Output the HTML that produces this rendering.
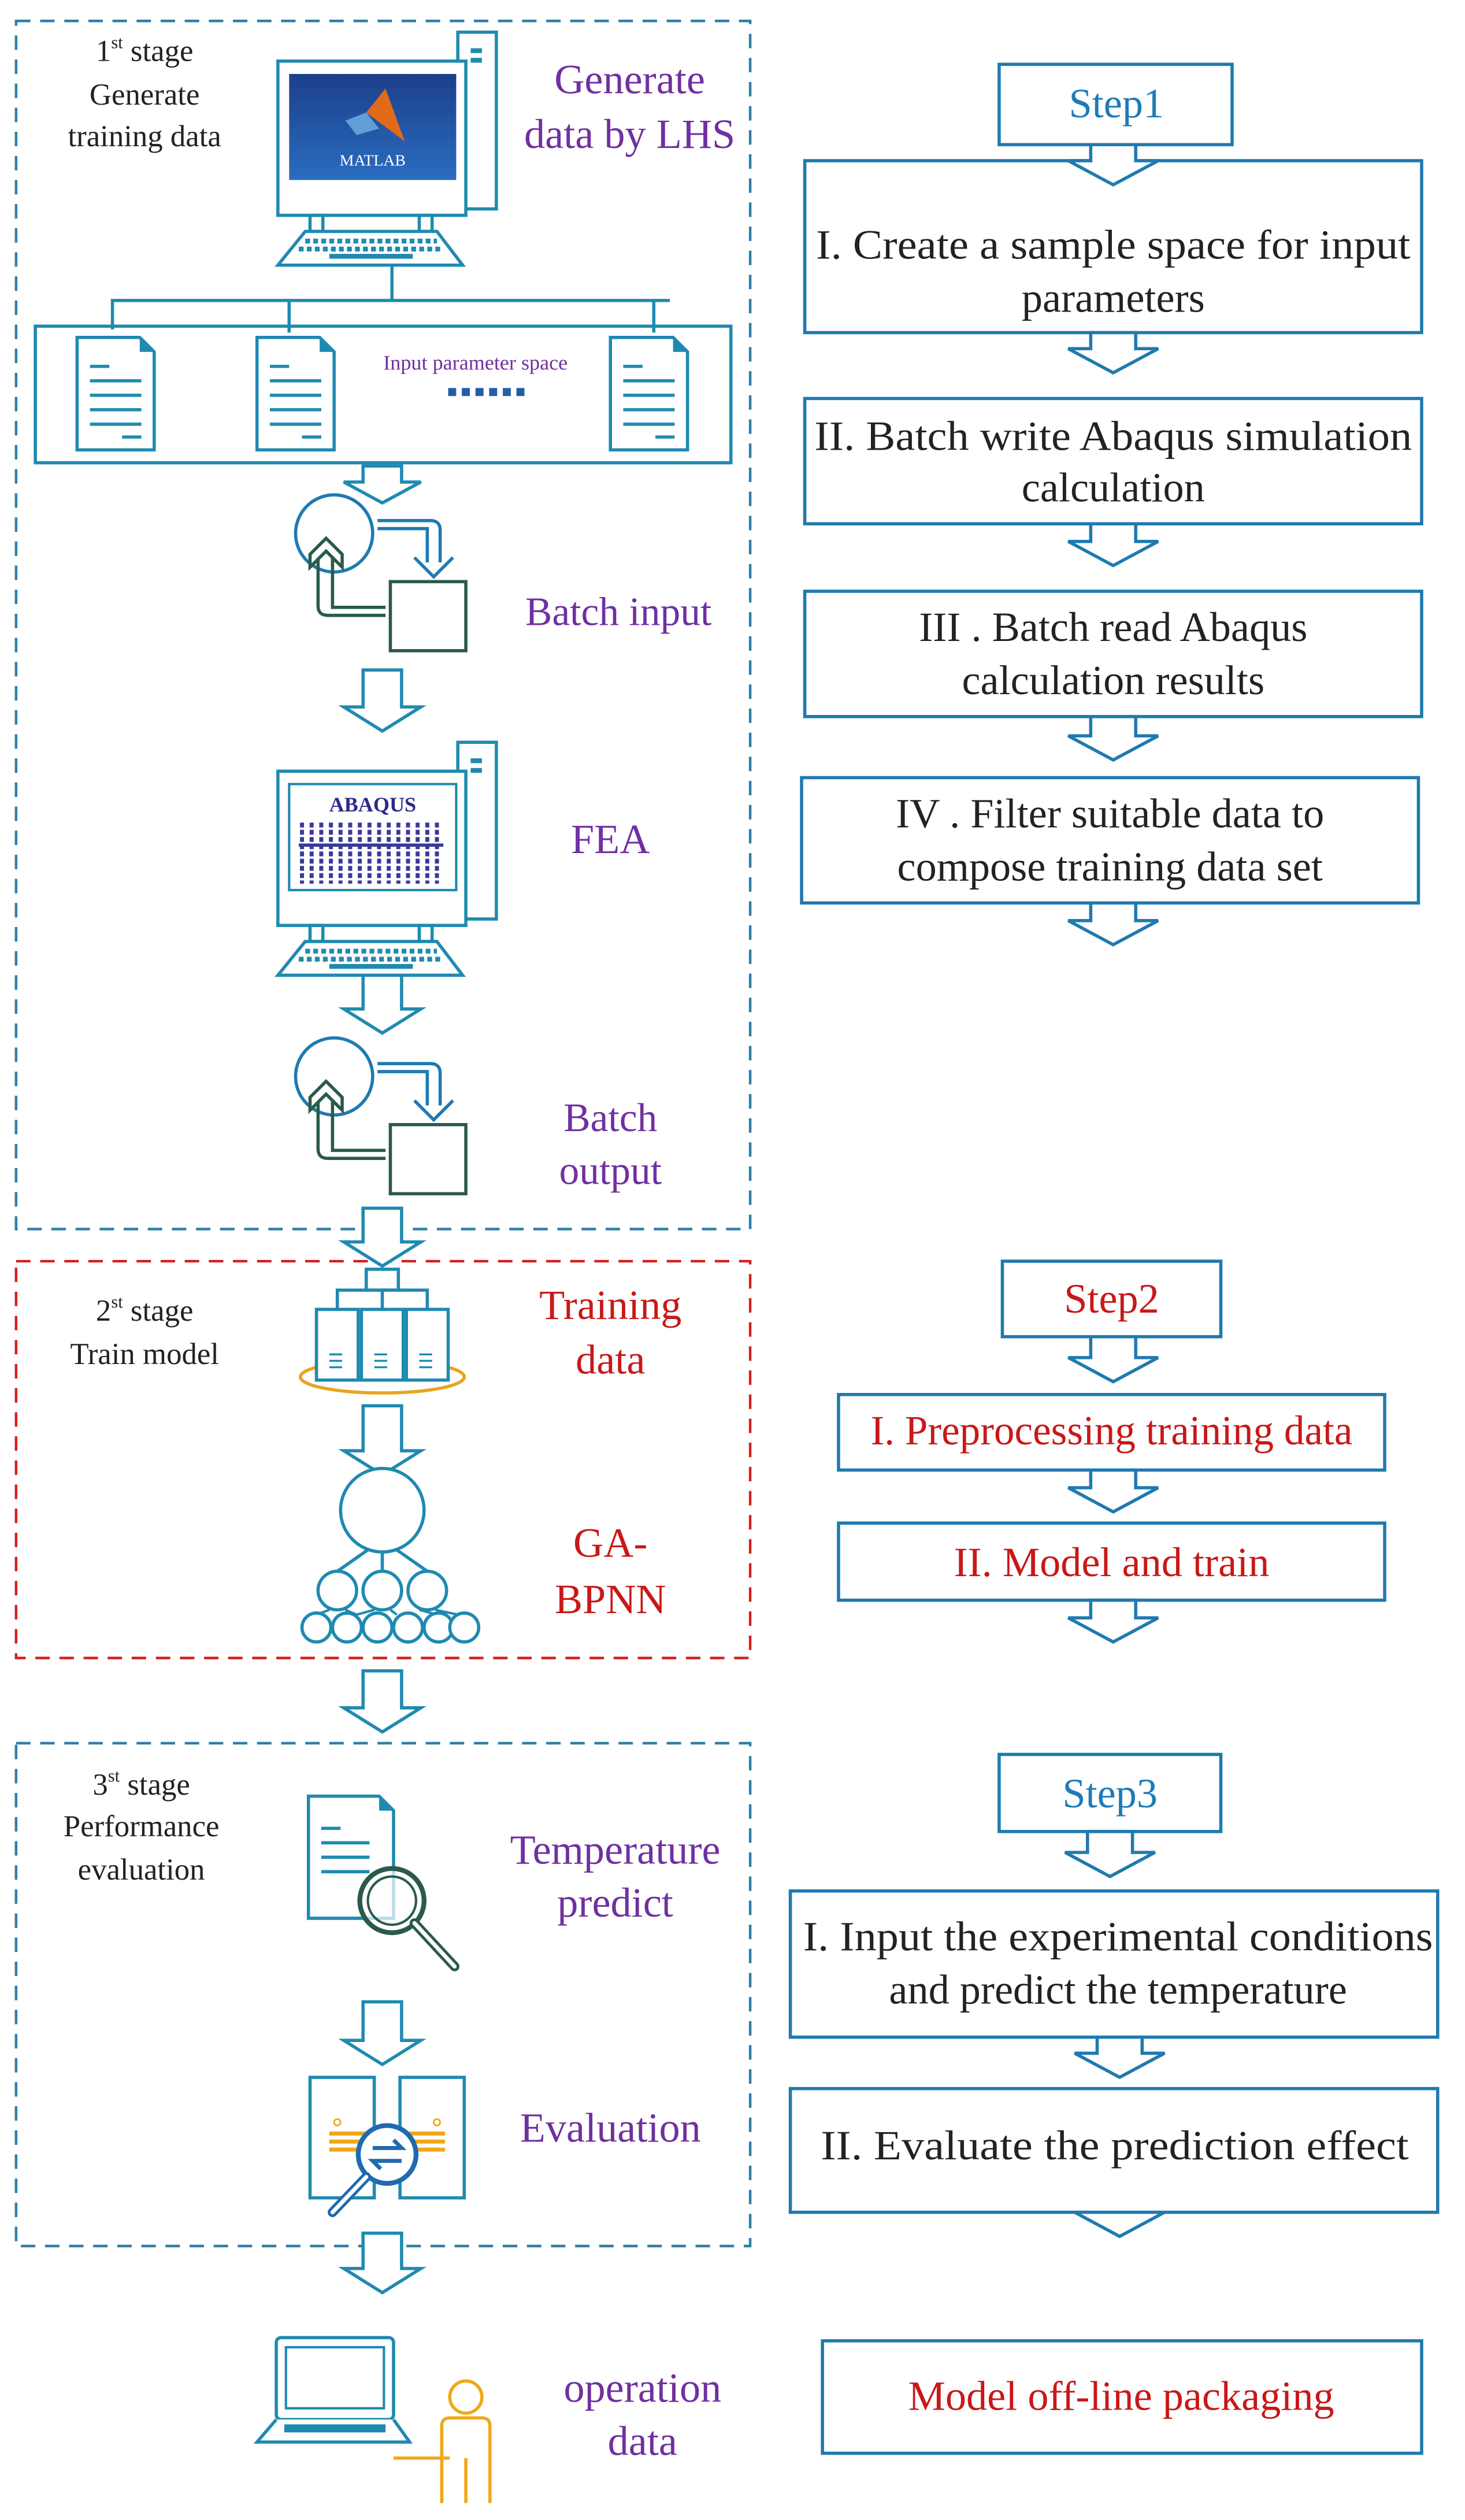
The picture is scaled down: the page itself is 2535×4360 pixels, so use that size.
<!DOCTYPE html>
<html><head><meta charset="utf-8"><style>
html,body{margin:0;padding:0;background:#fff}
svg{display:block}
text{font-family:"Liberation Serif",serif}
</style></head><body>
<svg width="2535" height="4360" viewBox="0 0 912 1568.5" xmlns="http://www.w3.org/2000/svg">
<defs>
<g id="cyc">
 <circle cx="208" cy="332" r="24" fill="none" stroke="#1f7ab0" stroke-width="2"/>
 <path d="M235 324 H268 Q274 324 274 330 V350 M235 329 H266 V350" fill="none" stroke="#1f7ab0" stroke-width="2"/>
 <path d="M258 347 L270 359 L282 347" fill="none" stroke="#1f7ab0" stroke-width="2"/>
 <rect x="243" y="362" width="47" height="43" fill="none" stroke="#2a5a4a" stroke-width="2"/>
 <path d="M240 383 H204 Q198 383 198 377 V345 M240 378 H207 V345" fill="none" stroke="#2a5a4a" stroke-width="2"/>
 <path d="M193 353 L193 345 L203 335 L213 345 L213 353 L203 343 Z" fill="#fff" stroke="#2a5a4a" stroke-width="2"/>
</g>
<g id="pc">
 <rect x="285" y="20" width="24" height="110" fill="#fff" stroke="#1f8ab0" stroke-width="2"/>
 <rect x="293" y="30" width="7" height="3" fill="#1f8ab0"/><rect x="293" y="36" width="7" height="3" fill="#1f8ab0"/>
 <rect x="173" y="38" width="117" height="96" fill="#fff" stroke="#1f8ab0" stroke-width="2"/>
 <rect x="193" y="134" width="8" height="10" fill="none" stroke="#1f8ab0" stroke-width="2"/>
 <rect x="261" y="134" width="8" height="10" fill="none" stroke="#1f8ab0" stroke-width="2"/>
 <path d="M190 144 H272 L288 165 H173 Z" fill="#fff" stroke="#1f8ab0" stroke-width="2"/>
 <path d="M190 150 H272 M186 155 H276" stroke="#1f8ab0" stroke-width="3" stroke-dasharray="3 2"/>
 <rect x="205" y="158" width="52" height="3" fill="#1f8ab0"/>
</g>
</defs>

<!-- stage boxes -->
<rect x="10" y="13" width="457" height="752" fill="none" stroke="#2e7fa6" stroke-width="1.6" stroke-dasharray="9 6"/>
<rect x="10" y="785" width="457" height="247" fill="none" stroke="#d42020" stroke-width="1.6" stroke-dasharray="9 6"/>
<rect x="10" y="1085" width="457" height="313" fill="none" stroke="#2e7fa6" stroke-width="1.6" stroke-dasharray="9 6"/>

<!-- stage 1 -->
<text x="90" y="38" font-size="19" text-anchor="middle" fill="#222">1<tspan font-size="11" dy="-8">st</tspan><tspan dy="8"> stage</tspan></text>
<text x="90" y="65" font-size="19" text-anchor="middle" fill="#222">Generate</text>
<text x="90" y="91" font-size="19" text-anchor="middle" fill="#222">training data</text>
<use href="#pc"/>
<defs><linearGradient id="mg" x1="0" y1="0" x2="0" y2="1"><stop offset="0" stop-color="#1c3f8a"/><stop offset="1" stop-color="#2a6cc0"/></linearGradient></defs>
<rect x="180" y="46" width="104" height="66" fill="url(#mg)"/>
<path d="M228 70 L240 55 L252 88 L244 82 Z" fill="#e06a1a"/><path d="M215 75 L228 70 L236 80 L222 84 Z" fill="#5fa0d8"/>
<text x="232" y="103" font-size="10" text-anchor="middle" fill="#fff">MATLAB</text>
<text x="392" y="58" font-size="26" text-anchor="middle" fill="#7030a0">Generate</text>
<text x="392" y="92" font-size="26" text-anchor="middle" fill="#7030a0">data by LHS</text>

<path d="M244 165 V187 M70 205 V187 H417 M180 187 V207 M407 187 V207" fill="none" stroke="#1f8ab0" stroke-width="2"/>
<rect x="22" y="203" width="433" height="85" fill="none" stroke="#1f8ab0" stroke-width="2"/>
<g fill="#fff" stroke="#1f8ab0" stroke-width="2">
 <path d="M48 210 H87 L96 219 V280 H48 Z"/><path d="M160 210 H199 L208 219 V280 H160 Z"/><path d="M380 210 H419 L428 219 V280 H380 Z"/>
</g>
<g stroke="#1f8ab0" stroke-width="2">
 <path d="M56 228 H68 M56 237 H88 M56 246 H88 M56 255 H88 M56 264 H88 M76 272 H88"/>
 <path d="M168 228 H180 M168 237 H200 M168 246 H200 M168 255 H200 M168 264 H200 M188 272 H200"/>
 <path d="M388 228 H400 M388 237 H420 M388 246 H420 M388 255 H420 M388 264 H420 M408 272 H420"/>
</g>
<path d="M87 210 V219 H96 Z M199 210 V219 H208 Z M419 210 V219 H428 Z" fill="#1f8ab0"/>
<text x="296" y="230" font-size="13" text-anchor="middle" fill="#7030a0">Input parameter space</text>
<path d="M279 244 H327" stroke="#1f5fa8" stroke-width="5" stroke-dasharray="5 3.5"/>

<g fill="#fff" stroke="#1f8ab0" stroke-width="2">
 <path d="M226 290 H250 V300 H262 L238 313 L214 300 H226 Z"/>
 <path d="M226 417 H250 V440 H262 L238 455 L214 440 H226 Z"/>
 <path d="M226 606 H250 V628 H262 L238 643 L214 628 H226 Z"/>
 <path d="M226 752 H250 V773 H262 L238 788 L214 773 H226 Z"/>
 <path d="M226 875 H250 V903 H262 L238 918 L214 903 H226 Z"/>
 <path d="M226 1040 H250 V1063 H262 L238 1078 L214 1063 H226 Z"/>
 <path d="M226 1246 H250 V1270 H262 L238 1285 L214 1270 H226 Z"/>
 <path d="M226 1390 H250 V1412 H262 L238 1427 L214 1412 H226 Z"/>
</g>

<use href="#cyc"/>
<text x="385" y="389" font-size="25" text-anchor="middle" fill="#7030a0">Batch input</text>

<use href="#pc" transform="translate(0,442)"/>
<rect x="180" y="488" width="104" height="66" fill="none" stroke="#1f8ab0" stroke-width="1.5"/>
<text x="232" y="505" font-size="13" font-weight="bold" text-anchor="middle" fill="#2a2a8a" font-family="Liberation Sans, sans-serif">ABAQUS</text>
<path d="M188 512 V550 M194 512 V550 M200 512 V550 M206 512 V550 M212 512 V550 M218 512 V550 M224 512 V550 M230 512 V550 M236 512 V550 M242 512 V550 M248 512 V550 M254 512 V550 M260 512 V550 M266 512 V550 M272 512 V550" stroke="#3a3a9a" stroke-width="2.5" stroke-dasharray="3 1.5"/>
<path d="M186 526 H276" stroke="#3a3a9a" stroke-width="2"/>
<text x="380" y="531" font-size="26" text-anchor="middle" fill="#7030a0">FEA</text>

<use href="#cyc" transform="translate(0,338)"/>
<text x="380" y="704" font-size="25" text-anchor="middle" fill="#7030a0">Batch</text>
<text x="380" y="737" font-size="25" text-anchor="middle" fill="#7030a0">output</text>

<!-- stage 2 -->
<text x="90" y="822" font-size="19" text-anchor="middle" fill="#222">2<tspan font-size="11" dy="-8">st</tspan><tspan dy="8"> stage</tspan></text>
<text x="90" y="849" font-size="19" text-anchor="middle" fill="#222">Train model</text>
<ellipse cx="238" cy="857" rx="51" ry="10" fill="none" stroke="#e8a420" stroke-width="2"/>
<g fill="#fff" stroke="#1f8ab0" stroke-width="2">
 <rect x="228" y="790" width="20" height="13"/>
 <path d="M210 815 V803 H266 V815 M238 803 V815"/>
 <rect x="197" y="815" width="26" height="44"/><rect x="225" y="815" width="26" height="44"/><rect x="253" y="815" width="26" height="44"/>
</g>
<path d="M205 843 H213 M205 847 H213 M205 851 H213 M233 843 H241 M233 847 H241 M233 851 H241 M261 843 H269 M261 847 H269 M261 851 H269" stroke="#1f8ab0" stroke-width="1.2"/>
<text x="380" y="821" font-size="26" text-anchor="middle" fill="#c81818">Training</text>
<text x="380" y="855" font-size="26" text-anchor="middle" fill="#c81818">data</text>

<g fill="#fff" stroke="#1f8ab0" stroke-width="2">
 <path d="M230 964 L210 978 M238 967 V977 M246 964 L266 978"/>
 <path d="M205 1002 L197 1005 M215 1002 L222 1005 M233 1002 L222 1005 M243 1002 L247 1005 M261 1002 L272 1005 M271 1002 L285 1005" stroke-width="1.5"/>
 <circle cx="238" cy="940" r="26"/>
 <circle cx="210" cy="990" r="12"/><circle cx="238" cy="990" r="12"/><circle cx="266" cy="990" r="12"/>
 <circle cx="197" cy="1013" r="9"/><circle cx="216" cy="1013" r="9"/><circle cx="235" cy="1013" r="9"/><circle cx="254" cy="1013" r="9"/><circle cx="273" cy="1013" r="9"/><circle cx="292" cy="1013" r="9" transform="translate(-3,0)"/>
</g>
<text x="380" y="969" font-size="26" text-anchor="middle" fill="#c81818">GA-</text>
<text x="380" y="1004" font-size="26" text-anchor="middle" fill="#c81818">BPNN</text>

<!-- stage 3 -->
<text x="88" y="1117" font-size="19" text-anchor="middle" fill="#222">3<tspan font-size="11" dy="-8">st</tspan><tspan dy="8"> stage</tspan></text>
<text x="88" y="1143" font-size="19" text-anchor="middle" fill="#222">Performance</text>
<text x="88" y="1170" font-size="19" text-anchor="middle" fill="#222">evaluation</text>
<path d="M192 1118 H236 L245 1127 V1194 H192 Z" fill="#fff" stroke="#1f8ab0" stroke-width="2"/>
<path d="M236 1118 V1127 H245 Z" fill="#1f8ab0"/>
<path d="M200 1138 H212 M200 1147 H230 M200 1156 H230 M200 1165 H230" stroke="#1f8ab0" stroke-width="2"/>
<circle cx="244" cy="1183" r="20" fill="#fff" fill-opacity="0.7" stroke="#2a5a4a" stroke-width="3"/>
<circle cx="244" cy="1183" r="15" fill="none" stroke="#2a5a4a" stroke-width="1.5"/>
<path d="M258 1197 L283 1224" stroke="#2a5a4a" stroke-width="6" stroke-linecap="round"/>
<path d="M258 1197 L283 1224" stroke="#fff" stroke-width="2.5" stroke-linecap="round"/>
<text x="383" y="1160" font-size="26" text-anchor="middle" fill="#7030a0">Temperature</text>
<text x="383" y="1193" font-size="26" text-anchor="middle" fill="#7030a0">predict</text>

<g fill="#fff" stroke="#1f8ab0" stroke-width="2">
 <rect x="193" y="1293" width="40" height="75"/><rect x="249" y="1293" width="40" height="75"/>
</g>
<path d="M205 1328 H229 M205 1333 H229 M205 1338 H229 M253 1328 H277 M253 1333 H277 M253 1338 H277" stroke="#f0a818" stroke-width="2.5"/>
<circle cx="210" cy="1321" r="2" fill="none" stroke="#f0a818"/><circle cx="272" cy="1321" r="2" fill="none" stroke="#f0a818"/>
<circle cx="241" cy="1341" r="18" fill="#fff" stroke="#1f6ab0" stroke-width="3"/>
<path d="M232 1337 H250 L245 1332 M250 1345 H232 L237 1350" fill="none" stroke="#1f6ab0" stroke-width="2.5"/>
<path d="M228 1355 L207 1377" stroke="#1f6ab0" stroke-width="6" stroke-linecap="round"/>
<path d="M228 1355 L207 1377" stroke="#fff" stroke-width="2.5" stroke-linecap="round"/>
<text x="380" y="1333" font-size="26" text-anchor="middle" fill="#7030a0">Evaluation</text>

<!-- operation -->
<rect x="172" y="1455" width="73" height="51" rx="3" fill="#fff" stroke="#1f8ab0" stroke-width="2"/>
<rect x="178" y="1461" width="61" height="38" fill="none" stroke="#1f8ab0" stroke-width="1.5"/>
<path d="M172 1506 L160 1520 H255 L245 1506" fill="#fff" stroke="#1f8ab0" stroke-width="2"/>
<rect x="177" y="1509" width="63" height="5" fill="#1f8ab0"/>
<circle cx="290" cy="1492" r="10" fill="#fff" stroke="#f0a818" stroke-width="2"/>
<path d="M275 1558 V1510 Q275 1505 280 1505 H300 Q305 1505 305 1510 V1558 M290 1530 V1558 M245 1530 H280" fill="none" stroke="#f0a818" stroke-width="2"/>
<text x="400" y="1495" font-size="26" text-anchor="middle" fill="#7030a0">operation</text>
<text x="400" y="1528" font-size="26" text-anchor="middle" fill="#7030a0">data</text>

<!-- right column -->
<g fill="#fff" stroke="#1f7ab0" stroke-width="2">
 <rect x="622" y="40" width="145" height="50"/>
 <rect x="501" y="100" width="384" height="107"/>
 <rect x="501" y="248" width="384" height="78"/>
 <rect x="501" y="368" width="384" height="78"/>
 <rect x="499" y="484" width="384" height="78"/>
 <rect x="624" y="785" width="136" height="47"/>
 <rect x="522" y="868" width="340" height="47"/>
 <rect x="522" y="948" width="340" height="48"/>
 <rect x="622" y="1092" width="138" height="48"/>
 <rect x="492" y="1177" width="403" height="91"/>
 <rect x="492" y="1300" width="403" height="77"/>
 <rect x="512" y="1457" width="373" height="70"/>
</g>
<g fill="#fff" stroke="#1f7ab0" stroke-width="2">
 <path d="M679 90 H707 V100 H721 L693 115 L665 100 H679 Z"/>
 <path d="M679 207 H707 V217 H721 L693 232 L665 217 H679 Z"/>
 <path d="M679 326 H707 V337 H721 L693 352 L665 337 H679 Z"/>
 <path d="M679 446 H707 V458 H721 L693 473 L665 458 H679 Z"/>
 <path d="M679 562 H707 V573 H721 L693 588 L665 573 H679 Z"/>
 <path d="M679 832 H707 V845 H721 L693 860 L665 845 H679 Z"/>
 <path d="M679 915 H707 V926 H721 L693 941 L665 926 H679 Z"/>
 <path d="M679 996 H707 V1007 H721 L693 1022 L665 1007 H679 Z"/>
 <path d="M677 1140 H705 V1153 H719 L691 1168 L663 1153 H677 Z"/>
 <path d="M683 1268 H711 V1278 H725 L697 1293 L669 1278 H683 Z"/>
 <path d="M683 1377 H711 V1377 H725 L697 1392 L669 1377 H683 Z"/>
</g>
<g font-size="26" text-anchor="middle" fill="#222">
 <text x="695" y="73" fill="#1e7bb8">Step1</text>
 <text x="693" y="161" textLength="370" lengthAdjust="spacingAndGlyphs">I. Create a sample space for input</text>
 <text x="693" y="194">parameters</text>
 <text x="693" y="280" textLength="372" lengthAdjust="spacingAndGlyphs">II. Batch write Abaqus simulation</text>
 <text x="693" y="312">calculation</text>
 <text x="693" y="399">III . Batch read Abaqus</text>
 <text x="693" y="432">calculation results</text>
 <text x="691" y="515">IV . Filter suitable data to</text>
 <text x="691" y="548">compose training data set</text>
 <text x="692" y="817" fill="#c81818">Step2</text>
 <text x="692" y="899" fill="#c81818" textLength="300" lengthAdjust="spacingAndGlyphs">I. Preprocessing training data</text>
 <text x="692" y="981" fill="#c81818">II. Model and train</text>
 <text x="691" y="1125" fill="#1e7bb8">Step3</text>
 <text x="696" y="1214" textLength="392" lengthAdjust="spacingAndGlyphs">I. Input the experimental conditions</text>
 <text x="696" y="1247">and predict the temperature</text>
 <text x="694" y="1344" textLength="366" lengthAdjust="spacingAndGlyphs">II.  Evaluate the prediction effect</text>
 <text x="698" y="1500" fill="#c81818">Model off-line packaging</text>
</g>
</svg>
</body></html>
